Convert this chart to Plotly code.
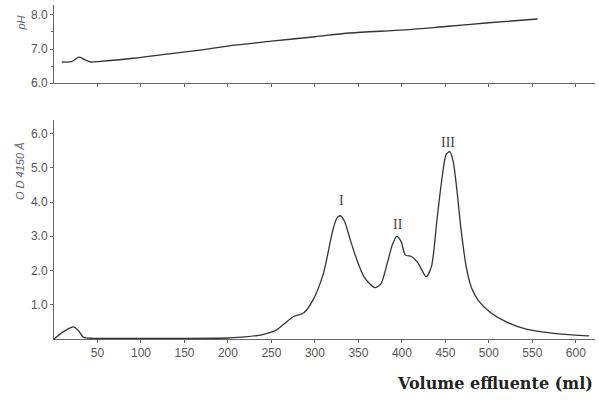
import plotly.graph_objects as go
from plotly.subplots import make_subplots

# pH curve (top panel)
ph_volume = [9, 20, 29, 36, 43, 53, 91, 130, 168, 203, 250, 300, 340, 403, 450, 500, 556]
ph_values = [6.62, 6.63, 6.76, 6.68, 6.62, 6.64, 6.73, 6.85, 6.97, 7.1, 7.23, 7.36, 7.47, 7.56, 7.66, 7.77, 7.88]

# Optical density curve (bottom panel)
od_volume = [0, 10, 18, 23, 28, 34, 45, 100, 150, 200, 220, 240, 255, 265, 275, 287, 298, 310, 320, 325,
             329, 334, 340, 347, 357, 369, 376, 383, 389, 394, 399, 404, 411, 418, 428, 434, 440, 446,
             451, 455, 459, 463, 468, 474, 480, 488, 501, 520, 543, 570, 596, 615]
od_values = [0, 0.2, 0.32, 0.35, 0.25, 0.05, 0.02, 0.02, 0.02, 0.03, 0.06, 0.13, 0.25, 0.45, 0.65, 0.76,
             1.15, 1.94, 3.12, 3.52, 3.6, 3.44, 2.95, 2.4, 1.79, 1.5, 1.62, 2.2, 2.75, 3.0, 2.85, 2.45,
             2.41, 2.24, 1.82, 2.12, 3.41, 4.68, 5.4, 5.47, 5.18, 4.4, 3.2, 2.1, 1.5, 1.12, 0.79, 0.5, 0.29,
             0.18, 0.12, 0.09]

peak_labels = ["I", "II", "III"]
peak_x = [330, 395, 453]
peak_y = [4.05, 3.35, 5.75]

x_ticks = [50, 100, 150, 200, 250, 300, 350, 400, 450, 500, 550, 600]
od_ticks = [1, 2, 3, 4, 5, 6]
ph_ticks = [6, 7, 8]

ink = "#333333"
axc = "#666666"
tickfont = dict(family="Liberation Sans Narrow, Liberation Sans, Arial", size=12, color="#555555")

fig = make_subplots(rows=2, cols=1, shared_xaxes=False, vertical_spacing=0.0)
fig.add_trace(go.Scatter(x=ph_volume, y=ph_values, mode="lines",
                         line=dict(color=ink, width=1.3, shape="spline", smoothing=0.8),
                         showlegend=False), row=1, col=1)
fig.add_trace(go.Scatter(x=od_volume, y=od_values, mode="lines",
                         line=dict(color=ink, width=1.3, shape="spline", smoothing=0.7),
                         showlegend=False), row=2, col=1)

common_x = dict(range=[0, 622], showgrid=False, zeroline=False, showline=True, linecolor=axc, linewidth=1,
                tickvals=x_ticks, ticks="outside", ticklen=3, tickcolor=axc, tickfont=tickfont)
fig.update_layout(
    xaxis=dict(common_x, domain=[0, 1], anchor="y", showticklabels=False),
    xaxis2=dict(common_x, domain=[0, 1], anchor="y2"),
    yaxis=dict(domain=[0.766, 1], range=[6.0, 8.29], tickvals=ph_ticks, tickformat=".1f",
               showgrid=False, zeroline=False, showline=True, linecolor=axc, ticks="outside",
               ticklen=3, tickcolor=axc, tickfont=tickfont,
               minor=dict(tickvals=[6.5, 7.5], ticks="outside", ticklen=2, tickcolor=axc)),
    yaxis2=dict(domain=[0, 0.656], range=[0, 6.4], tickvals=od_ticks, tickformat=".1f",
                showgrid=False, zeroline=False, showline=True, linecolor=axc, ticks="outside",
                ticklen=3, tickcolor=axc, tickfont=tickfont),
    margin=dict(l=54, r=4, t=5, b=61),
    width=599, height=400,
    paper_bgcolor="white", plot_bgcolor="white",
)

for lab, xv, yv in zip(peak_labels, peak_x, peak_y):
    fig.add_annotation(x=xv, y=yv, xref="x2", yref="y2", text=lab, showarrow=False,
                       font=dict(family="Liberation Serif", size=14, color="#444444"))

fig.add_annotation(x=-42 / 541, y=(339 - 14) / 334, xref="paper", yref="paper",
                   text="<i>pH</i>", textangle=-90, showarrow=False,
                   font=dict(family="Liberation Sans", size=11, color="#666666"))
fig.add_annotation(x=-42 / 541, y=(339 - 172) / 334, xref="paper", yref="paper",
                   text="<i>O D 4150 Å</i>", textangle=-90, showarrow=False,
                   font=dict(family="Liberation Sans", size=11, color="#666666"))
fig.add_annotation(x=1.0, y=(339 - 383) / 334, xref="paper", yref="paper", xanchor="right",
                   yanchor="middle", text="<b>Volume effluente (ml)</b>", showarrow=False,
                   font=dict(family="DejaVu Serif", size=16, color="#222222"))

fig.write_html("out.html")
